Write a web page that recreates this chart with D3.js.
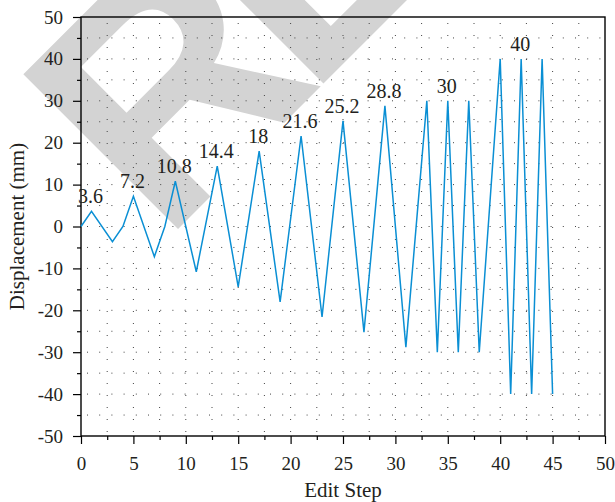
<!DOCTYPE html>
<html>
<head>
<meta charset="utf-8">
<script src="https://cdnjs.cloudflare.com/ajax/libs/d3/7.8.5/d3.min.js"></script>
<style>
  body { margin: 0; background: #fff; }
  svg { display: block; }
</style>
</head>
<body>
<svg id="chart" width="615" height="502"></svg>
<script>
// data
var steps = [0, 1, 3, 4, 5, 7, 8, 9, 11, 13, 15, 17, 19, 21, 23, 25, 27, 29, 31, 33, 34, 35, 36, 37, 38, 40, 41, 42, 43, 44, 45];
var displacement = [0, 3.6, -3.6, 0, 7.2, -7.2, 0, 10.8, -10.8, 14.4, -14.4, 18, -18, 21.6, -21.6, 25.2, -25.2, 28.8, -28.8, 30, -30, 30, -30, 30, -30, 40, -40, 40, -40, 40, -40];
var labelSteps = [1, 5, 9, 13, 17, 21, 25, 29, 35, 42];
var xTicks = [0, 5, 10, 15, 20, 25, 30, 35, 40, 45, 50];
var yTicks = [-50, -40, -30, -20, -10, 0, 10, 20, 30, 40, 50];

var plotL = 81, plotR = 605, plotT = 17, plotB = 436;
var serif = "'Liberation Serif', 'Times New Roman', serif";

var svg = d3.select("#chart");

var x = d3.scaleLinear().domain([0, 50]).range([plotL, plotR]);
var y = d3.scaleLinear().domain([-50, 50]).range([plotB, plotT]);

// plain hyphen for negatives, like the source
var fmt = function(d) { return String(d); };

/* watermark behind everything */
svg.append("text")
  .attr("transform", "translate(163,244) rotate(-45)")
  .attr("font-family", "'Liberation Sans', Arial, sans-serif")
  .attr("font-weight", "bold")
  .attr("font-size", 318)
  .attr("letter-spacing", -24)
  .attr("fill", "#d3d3d3")
  .text("RETRACTED");

/* dotted grid */
var grid = svg.append("g")
  .attr("stroke", "#444")
  .attr("stroke-width", 1);

grid.selectAll("line.h")
  .data(d3.range(-45, 50, 5))
  .enter().append("line")
  .attr("class", "h")
  .attr("x1", plotL).attr("x2", plotR)
  .attr("y1", function(d) { return y(d); })
  .attr("y2", function(d) { return y(d); })
  .attr("stroke-dasharray", "1,11.2")
  .attr("stroke-dashoffset", -6);

grid.selectAll("line.v")
  .data(d3.range(2.5, 50, 2.5))
  .enter().append("line")
  .attr("class", "v")
  .attr("x1", function(d) { return x(d); })
  .attr("x2", function(d) { return x(d); })
  .attr("y1", plotT).attr("y2", plotB)
  .attr("stroke-dasharray", "1,11")
  .attr("stroke-dashoffset", -6);

/* axes */
svg.append("g")
  .attr("transform", "translate(0," + plotB + ")")
  .call(d3.axisBottom(x).tickValues(xTicks).tickSize(8).tickPadding(13).tickFormat(fmt));
svg.append("g")
  .attr("transform", "translate(0," + plotB + ")")
  .call(d3.axisBottom(x).tickValues(d3.range(2.5, 50, 5)).tickSize(4).tickFormat(""));

svg.append("g")
  .attr("transform", "translate(" + plotL + ",0)")
  .call(d3.axisLeft(y).tickValues(yTicks).tickSize(8).tickPadding(10).tickFormat(fmt));
svg.append("g")
  .attr("transform", "translate(" + plotL + ",0)")
  .call(d3.axisLeft(y).tickValues(d3.range(-45, 50, 10)).tickSize(4).tickFormat(""));

svg.selectAll(".domain").remove();
svg.selectAll(".tick line").attr("stroke", "#000").attr("stroke-width", 1.2);
svg.selectAll(".tick text")
  .attr("font-family", serif)
  .attr("font-size", 19)
  .attr("fill", "#231f20");

// frame
svg.append("rect")
  .attr("x", plotL).attr("y", plotT)
  .attr("width", plotR - plotL).attr("height", plotB - plotT)
  .attr("fill", "none")
  .attr("stroke", "#000")
  .attr("stroke-width", 1.4);

/* the series */
var pts = steps.map(function(s, i) { return [s, displacement[i]]; });
var line = d3.line()
  .x(function(d) { return x(d[0]); })
  .y(function(d) { return y(d[1]); });

svg.append("path")
  .datum(pts)
  .attr("d", line)
  .attr("fill", "none")
  .attr("stroke", "#0a8fd4")
  .attr("stroke-width", 1.5);

svg.selectAll("text.lab")
  .data(labelSteps)
  .enter().append("text")
  .attr("class", "lab")
  .attr("x", function(d) { return x(d) - 1; })
  .attr("y", function(d) { return y(displacement[steps.indexOf(d)]) - 8; })
  .attr("text-anchor", "middle")
  .attr("font-family", serif)
  .attr("font-size", 20)
  .attr("fill", "#231f20")
  .text(function(d) { return displacement[steps.indexOf(d)]; });

/* titles */
svg.append("text")
  .attr("x", (plotL + plotR) / 2)
  .attr("y", 497)
  .attr("text-anchor", "middle")
  .attr("font-family", serif)
  .attr("font-size", 21)
  .attr("fill", "#231f20")
  .text("Edit Step");

svg.append("text")
  .attr("transform", "translate(24," + ((plotT + plotB) / 2) + ") rotate(-90)")
  .attr("text-anchor", "middle")
  .attr("font-family", serif)
  .attr("font-size", 21)
  .attr("fill", "#231f20")
  .text("Displacement (mm)");
</script>
</body>
</html>
